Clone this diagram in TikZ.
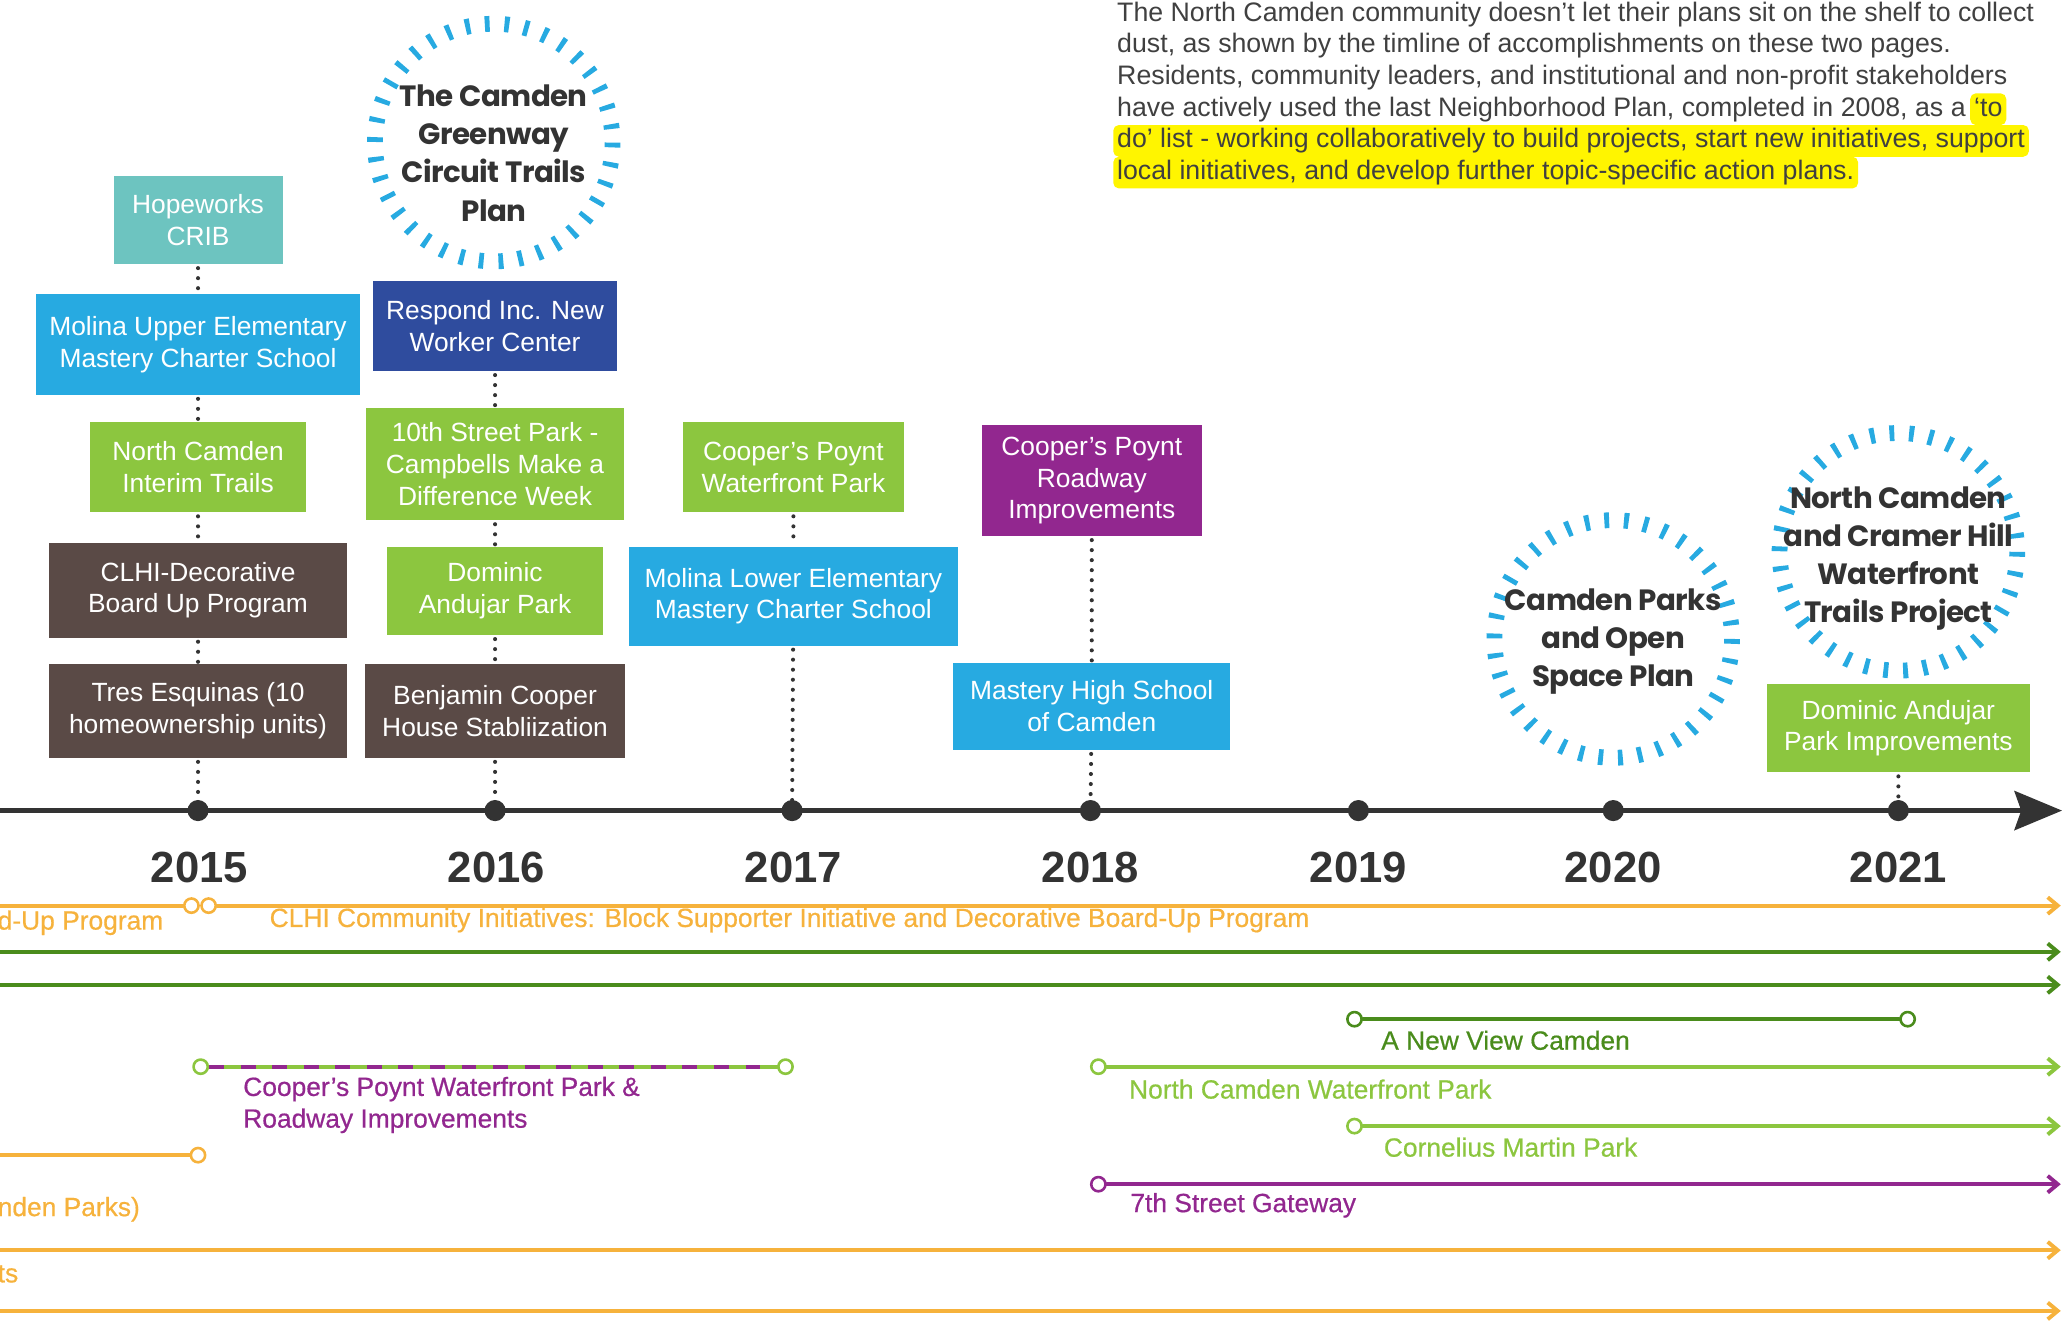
\documentclass[tikz,border=0pt]{standalone}
\usepackage{fontspec}
\setmainfont{Liberation Sans}
\newfontfamily\planfont{Poppins}[LetterSpace=-2]
\newfontfamily\runfont{Liberation Sans}[FakeBold=0.6]
\usetikzlibrary{arrows.meta,positioning}

\definecolor{axisgray}{HTML}{333333}
\definecolor{textgray}{HTML}{404040}
\definecolor{tlteal}{HTML}{6DC4C0}
\definecolor{tlblue}{HTML}{27AAE1}
\definecolor{tlnavy}{HTML}{2F4C9E}
\definecolor{tlgreen}{HTML}{8CC63F}
\definecolor{tlbrown}{HTML}{5A4A46}
\definecolor{tlpurple}{HTML}{92278F}
\definecolor{tlorange}{HTML}{F6B23C}
\definecolor{tldkgreen}{HTML}{4A8C1C}
\definecolor{tlyellow}{HTML}{FFF500}

\newcommand{\tlfont}{\fontsize{14.2}{17.1}\selectfont}

\begin{document}
\begin{tikzpicture}[x=0.025cm, y=-0.025cm, line join=round,
    tlbox/.style={rectangle, fill=#1, text=white, align=center, inner sep=0pt, font=\tlfont},
    boxsize/.style 2 args={minimum width=#1cm, minimum height=#2cm},
    dotlink/.style={draw=axisgray, line width=2.2pt, line cap=round, dash pattern=on 0pt off 5.4pt, shorten <=2pt},
    yearlabel/.style={font=\fontsize{23.5}{28}\selectfont\bfseries, text=axisgray},
    plan/.style={draw=tlblue, line width=8.5pt, dash pattern=on 2.6pt off 8pt},
    plantext/.style={font=\planfont\fontsize{15.8}{20.6}\selectfont\bfseries, text=axisgray, align=center},
    para/.style={font=\fontsize{14.4}{17.1}\selectfont, text=textgray, inner sep=0pt, anchor=base west},
    hilite/.style={para, fill=tlyellow, rounded corners=3pt, inner xsep=2.1pt, inner ysep=0.8pt, text height=11.5pt, text depth=4pt},
    runline/.style={draw=#1, line width=2.1pt, line cap=round},
    runarrow/.style={runline=#1, -{Straight Barb[length=5.4pt, width=9pt]}},
    ring/.style={circle, draw=#1, fill=white, line width=1.4pt, minimum size=0.27cm, inner sep=0pt},
    runlabel/.style={font=\runfont\tlfont, text=#1, anchor=west, inner sep=0pt, align=left}
  ]

\useasboundingbox (0,0) rectangle (1568,1001);

% intro text
\node[para] (p1) at (846,16) {The North Camden community doesn’t let their plans sit on the shelf to collect};
\node[para] (p2) at (846,40) {dust, as shown by the timline of accomplishments on these two pages.};
\node[para] (p3) at (846,64) {Residents, community leaders, and institutional and non-profit stakeholders};
\node[para] (p4) at (846,88) {have actively used the last Neighborhood Plan, completed in 2008, as a};
\node[hilite] (p4b) at ([xshift=2pt]p4.base east) {‘to};
\node[hilite] (p5) at (843,112) {do’ list - working collaboratively to build projects, start new initiatives, support};
\node[hilite] (p6) at (843,136) {local initiatives, and develop further topic-specific action plans.};

% year points
\coordinate (15) at (150,614);
\coordinate (16) at (375,614);
\coordinate (17) at (600,614);
\coordinate (18) at (826,614);
\coordinate (19) at (1029,614);
\coordinate (20) at (1222,614);
\coordinate (21) at (1438,614);

% 2015
\node[tlbox=tlteal, boxsize={3.2}{1.675}] (hope) at (150,166.5) {Hopeworks\\CRIB};
\node[tlbox=tlblue, boxsize={6.15}{1.9}] (molup) at (150,261) {Molina Upper Elementary\\Mastery Charter School};
\node[tlbox=tlgreen, boxsize={4.1}{1.7}] (ncit) at (150,354) {North Camden\\Interim Trails};
\node[tlbox=tlbrown, boxsize={5.65}{1.8}] (clhi) at (150,447) {CLHI-Decorative\\Board Up Program};
\node[tlbox=tlbrown, boxsize={5.65}{1.775}] (tres) at (150,538.5) {Tres Esquinas (10\\homeownership units)};
\draw[dotlink] (hope) -- (molup);
\draw[dotlink] (molup) -- (ncit);
\draw[dotlink] (ncit) -- (clhi);
\draw[dotlink] (clhi) -- (tres);
\draw[dotlink] (tres) -- (15);

% 2016
\coordinate (c16) at (374,108);
\draw[plan] (c16) circle [radius=90];
\node[plantext] (t16) at (374,116) {The Camden\\Greenway\\Circuit Trails\\Plan};
\node[tlbox=tlnavy, boxsize={4.625}{1.7}] (resp) at (375,247) {Respond Inc. New\\Worker Center};
\node[tlbox=tlgreen, boxsize={4.875}{2.125}] (tenth) at (375,351.5) {10th Street Park -\\Campbells Make a\\Difference Week};
\node[tlbox=tlgreen, boxsize={4.075}{1.675}] (dap) at (375,447.5) {Dominic\\Andujar Park};
\node[tlbox=tlbrown, boxsize={4.925}{1.775}] (benj) at (375,538.5) {Benjamin Cooper\\House Stabliization};
\draw[dotlink] (resp) -- (tenth);
\draw[dotlink] (tenth) -- (dap);
\draw[dotlink] (dap) -- (benj);
\draw[dotlink] (benj) -- (16);

% 2017
\node[tlbox=tlgreen, boxsize={4.175}{1.7}] (cpwp) at (601,354) {Cooper’s Poynt\\Waterfront Park};
\node[tlbox=tlblue, boxsize={6.225}{1.875}] (mollow) at (601,451.5) {Molina Lower Elementary\\Mastery Charter School};
\draw[dotlink] (cpwp) -- (mollow);
\draw[dotlink] (mollow) -- (17);

% 2018
\node[tlbox=tlpurple, boxsize={4.175}{2.1}] (cpri) at (827,364) {Cooper’s Poynt\\Roadway\\Improvements};
\node[tlbox=tlblue, boxsize={5.25}{1.65}] (mhs) at (827,535) {Mastery High School\\of Camden};
\draw[dotlink] (cpri) -- (mhs);
\draw[dotlink] (mhs) -- (18);

% 2020
\coordinate (c20) at (1222,484);
\draw[plan] (c20) circle [radius=90];
\node[plantext] (t20) at (1222,486) {Camden Parks\\and Open\\Space Plan};

% 2021
\coordinate (c21) at (1438,418);
\draw[plan] (c21) circle [radius=90];
\node[plantext] (t21) at (1438,423) {North Camden\\and Cramer Hill\\Waterfront\\Trails Project};
\node[tlbox=tlgreen, boxsize={4.975}{1.675}] (dapi) at (1438,551.5) {Dominic Andujar\\Park Improvements};
\draw[dotlink] (dapi) -- (21);

% time axis
\coordinate (a0) at (0,614);
\coordinate (a1) at (1562,614);
\draw[axisgray, line width=3pt, -{Stealth[length=25.6pt, width=21pt, inset=3.6pt]}] (a0) -- (a1);
\fill[axisgray] (15) circle [radius=8];
\fill[axisgray] (16) circle [radius=8];
\fill[axisgray] (17) circle [radius=8];
\fill[axisgray] (18) circle [radius=8];
\fill[axisgray] (19) circle [radius=8];
\fill[axisgray] (20) circle [radius=8];
\fill[axisgray] (21) circle [radius=8];
\node[yearlabel] (y15) at (151,657) {2015};
\node[yearlabel] (y16) at (376,657) {2016};
\node[yearlabel] (y17) at (601,657) {2017};
\node[yearlabel] (y18) at (826,657) {2018};
\node[yearlabel] (y19) at (1029,657) {2019};
\node[yearlabel] (y20) at (1222,657) {2020};
\node[yearlabel] (y21) at (1438,657) {2021};

% CLHI initiatives
\coordinate (o1s) at (0,686);
\node[ring=tlorange] (o1a) at (145,686) {};
\node[ring=tlorange] (o1b) at (158,686) {};
\coordinate (o1e) at (1561,686);
\draw[runline=tlorange] (o1s) -- (o1a);
\draw[runarrow=tlorange] (o1b) -- (o1e);
\node[runlabel=tlorange] (l1a) at (-2,699) {d-Up Program};
\node[runlabel=tlorange] (l1b) at (204,697) {CLHI Community Initiatives: Block Supporter Initiative and Decorative Board-Up Program};

% dark green runs
\coordinate (g1s) at (0,721);
\coordinate (g1e) at (1561,721);
\draw[runarrow=tldkgreen] (g1s) -- (g1e);
\coordinate (g2s) at (0,746);
\coordinate (g2e) at (1561,746);
\draw[runarrow=tldkgreen] (g2s) -- (g2e);

% A New View Camden
\node[ring=tldkgreen] (nv1) at (1026,772) {};
\node[ring=tldkgreen] (nv2) at (1445,772) {};
\draw[runline=tldkgreen] (nv1) -- (nv2);
\node[runlabel=tldkgreen] (lnv) at (1046,788) {A New View Camden};

% Cooper's Poynt park and roadway
\node[ring=tlgreen] (cp1) at (152,808) {};
\node[ring=tlgreen] (cp2) at (595,808) {};
\draw[runline=tlgreen] (cp1) -- (cp2);
\draw[runline=tlpurple, line cap=butt, dash pattern=on 8pt off 9pt] (cp1) -- (cp2);
\node[runlabel=tlpurple] (lcp) at (184,837) {Cooper’s Poynt Waterfront Park \&\\Roadway Improvements};

% North Camden Waterfront Park
\node[ring=tlgreen] (nw1) at (832,808) {};
\coordinate (nw2) at (1561,808);
\draw[runarrow=tlgreen] (nw1) -- (nw2);
\node[runlabel=tlgreen] (lnw) at (855,825) {North Camden Waterfront Park};

% Cornelius Martin Park
\node[ring=tlgreen] (cm1) at (1026,853) {};
\coordinate (cm2) at (1561,853);
\draw[runarrow=tlgreen] (cm1) -- (cm2);
\node[runlabel=tlgreen] (lcm) at (1048,869) {Cornelius Martin Park};

% parks run ending 2015
\coordinate (o2s) at (0,875);
\node[ring=tlorange] (o2e) at (150,875) {};
\draw[runline=tlorange] (o2s) -- (o2e);
\node[runlabel=tlorange] (l2) at (-2,916) {nden Parks)};

% 7th Street Gateway
\node[ring=tlpurple] (sg1) at (832,897) {};
\coordinate (sg2) at (1561,897);
\draw[runarrow=tlpurple] (sg1) -- (sg2);
\node[runlabel=tlpurple] (lsg) at (856,913) {7th Street Gateway};

% orange runs at the bottom
\coordinate (o3s) at (0,947);
\coordinate (o3e) at (1561,947);
\draw[runarrow=tlorange] (o3s) -- (o3e);
\node[runlabel=tlorange] (l3) at (-2,965) {ts};
\coordinate (o4s) at (0,993);
\coordinate (o4e) at (1561,993);
\draw[runarrow=tlorange] (o4s) -- (o4e);

\end{tikzpicture}
\end{document}
